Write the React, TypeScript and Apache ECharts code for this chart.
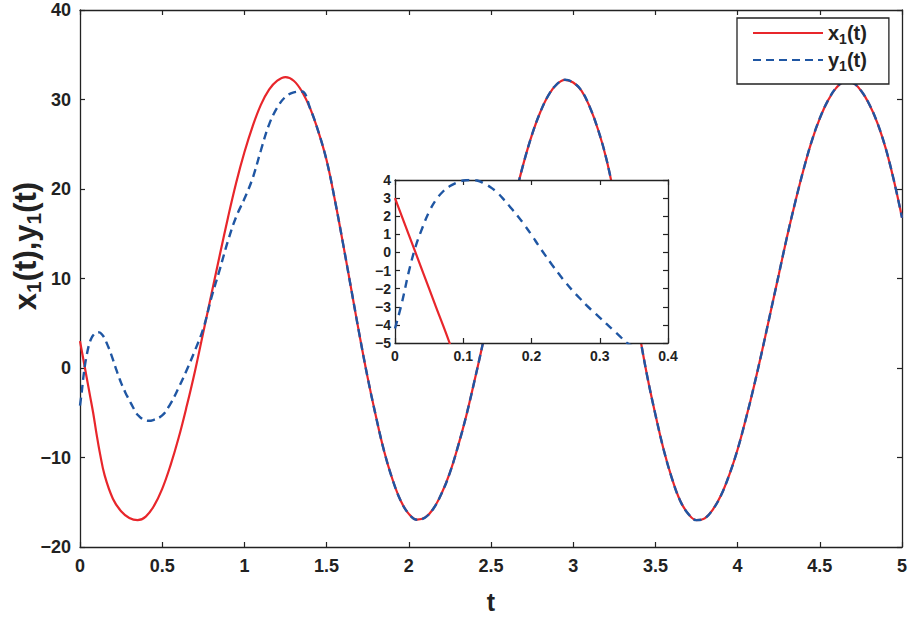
import React, { useEffect, useRef } from "react";
import * as echarts from "echarts";

// ---------- data ----------
const x1Time = [
  0, 0.02, 0.04, 0.06, 0.08, 0.1, 0.12, 0.15, 0.2, 0.25, 0.3, 0.35, 0.4,
  0.45, 0.5, 0.55, 0.6, 0.65, 0.7, 0.75, 0.8, 0.85, 0.9, 0.95, 1.0,
  1.05, 1.1, 1.15, 1.2, 1.25, 1.3, 1.35, 1.4, 1.45, 1.5, 1.55, 1.6,
  1.65, 1.7, 1.75, 1.8, 1.85, 1.9, 1.95, 2.0, 2.05, 2.1, 2.15, 2.2,
  2.25, 2.3, 2.35, 2.4, 2.45, 2.5, 2.55, 2.6, 2.65, 2.7, 2.75, 2.8,
  2.85, 2.9, 2.95, 3.0, 3.05, 3.1, 3.15, 3.2, 3.25, 3.3, 3.35, 3.4,
  3.45, 3.5, 3.55, 3.6, 3.65, 3.7, 3.75, 3.8, 3.85, 3.9, 3.95, 4.0,
  4.05, 4.1, 4.15, 4.2, 4.25, 4.3, 4.35, 4.4, 4.45, 4.5, 4.55, 4.6,
  4.65, 4.7, 4.75, 4.8, 4.85, 4.9, 4.95, 5.0,
];
const x1Values = [
  3, 1.0, -1.0, -3.0, -5.0, -7.3, -9.4, -12.0, -14.6, -16.0, -16.75, -17.0, -16.6,
  -15.4, -13.5, -10.9, -7.8, -4.2, -0.3, 4.0, 8.3, 12.6, 16.8, 20.7, 24.1,
  27.0, 29.4, 31.1, 32.1, 32.5, 32.1, 30.9, 29.0, 26.4, 23.2, 18.8, 13.9,
  8.8, 3.7, -1.1, -5.4, -9.3, -12.4, -14.8, -16.3, -16.95, -16.7, -15.7, -14.0,
  -11.7, -8.7, -5.3, -1.4, 2.7, 7.0, 11.3, 15.4, 19.4, 23.0, 26.1, 28.6,
  30.5, 31.7, 32.2, 31.9, 31.0, 29.2, 26.7, 23.5, 19.2, 14.2, 9.2, 4.1,
  -0.9, -5.2, -9.1, -12.3, -14.8, -16.3, -17.0, -16.8, -15.8, -14.2, -11.9, -9.1,
  -5.7, -2.0, 2.0, 6.2, 10.4, 14.6, 18.5, 22.1, 25.3, 27.9, 29.9, 31.3,
  31.95, 31.85, 31.0, 29.5, 27.4, 24.6, 21.0, 16.8,
];

const y1EarlyTime = [
  0, 0.01, 0.02, 0.03, 0.04, 0.05, 0.06, 0.07, 0.08, 0.09, 0.1, 0.11,
  0.12, 0.13, 0.14, 0.15, 0.16, 0.17, 0.18, 0.19, 0.2, 0.21, 0.22, 0.23,
  0.24, 0.25, 0.26, 0.27, 0.28, 0.29, 0.3, 0.31, 0.32, 0.33, 0.34, 0.36,
  0.38, 0.4, 0.42, 0.44,
];
const y1EarlyValues = [
  -4.2, -2.8, -1.1, 0.3, 1.35, 2.25, 2.9, 3.35, 3.65, 3.85, 3.97, 4.0,
  3.97, 3.82, 3.6, 3.3, 2.9, 2.45, 2.0, 1.5, 0.97, 0.4, -0.15, -0.68,
  -1.18, -1.66, -2.1, -2.5, -2.9, -3.25, -3.6, -3.95, -4.3, -4.65, -5.0, -5.4,
  -5.7, -5.85, -5.9, -5.85,
];
const y1MidTime = [
  0.5, 0.55, 0.6, 0.65, 0.7, 0.75, 0.8, 0.85, 0.9, 0.95, 1.0,
  1.05, 1.1, 1.15, 1.2, 1.25, 1.3, 1.35,
];
const y1MidValues = [
  -5.3, -4.0, -2.2, -0.2, 2.0, 4.4, 7.9, 11.0, 14.2, 16.9, 18.9,
  21.2, 24.3, 27.2, 29.1, 30.3, 30.8, 30.9,
];
// after t = 1.35 the response y1(t) lies on x1(t)
const y1JoinTime = 1.35;

const mainXTicks = { min: 0, max: 5, interval: 0.5 };
const mainYTicks = { min: -20, max: 40, interval: 10 };
const insetXTicks = { min: 0, max: 0.4, interval: 0.1 };
const insetYTicks = { min: -5, max: 4, interval: 1 };

// ---------- build series data ----------
const x1Data = x1Time.map((t, i) => [t, x1Values[i]]);
const y1Data = [
  ...y1EarlyTime.map((t, i) => [t, y1EarlyValues[i]]),
  ...y1MidTime.map((t, i) => [t, y1MidValues[i]]),
  ...x1Data.filter((p) => p[0] > y1JoinTime),
];

const FONT = '"Liberation Sans", Arial, Helvetica, sans-serif';
const INK = "#222";
const RED = "#e8262b";
const BLUE = "#1f56a3";

const fmt = (v: number) => String(parseFloat(v.toFixed(2))).replace("-", "\u2212");

function axis(
  gridIndex: number,
  position: string,
  ticks: { min: number; max: number; interval: number },
  labelSize: number,
  showLabel: boolean,
  margin: number,
  z: number,
  extra: any = {}
) {
  return {
    type: "value",
    gridIndex,
    position,
    min: ticks.min,
    max: ticks.max,
    interval: ticks.interval,
    z,
    axisLine: { show: true, onZero: false, lineStyle: { color: INK, width: 1.3 } },
    axisTick: { show: true, inside: true, length: 5, lineStyle: { color: INK, width: 1.2 } },
    axisLabel: {
      show: showLabel,
      fontSize: labelSize,
      fontWeight: "bold",
      fontFamily: FONT,
      color: INK,
      margin,
      formatter: fmt,
    },
    splitLine: { show: false },
    ...extra,
  };
}

function lineSeries(name: string, axisIndex: number, data: number[][], color: string, dash: any, z: number) {
  return {
    type: "line",
    name,
    xAxisIndex: axisIndex,
    yAxisIndex: axisIndex,
    data,
    symbol: "none",
    showSymbol: false,
    smooth: 0.4,
    clip: true,
    lineStyle: { color, width: dash ? 2.4 : 2.2, type: dash || "solid" },
    itemStyle: { color },
    z,
  };
}

export default function App() {
  const ref = useRef<HTMLDivElement>(null);

  useEffect(() => {
    if (!ref.current) return;
    const chart = echarts.init(ref.current, null, { renderer: "svg" });

    const legendRich = {
      b: { fontSize: 20, fontWeight: "bold", fontFamily: FONT, color: INK, lineHeight: 26 },
      s: { fontSize: 14, fontWeight: "bold", fontFamily: FONT, color: INK, verticalAlign: "bottom" },
    };

    chart.setOption({
      animation: false,
      backgroundColor: "#fff",
      grid: [
        { left: 80, top: 10, width: 822, height: 540, show: false },
        {
          left: 395,
          top: 180,
          width: 273,
          height: 163,
          show: true,
          backgroundColor: "#fff",
          borderWidth: 0,
          z: 5,
        },
      ],
      xAxis: [
        axis(0, "bottom", mainXTicks, 18, true, 10, 1, {
          name: "t",
          nameLocation: "middle",
          nameGap: 42,
          nameTextStyle: { fontSize: 25, fontWeight: "bold", fontFamily: FONT, color: INK },
        }),
        axis(0, "top", mainXTicks, 18, false, 10, 1),
        axis(1, "bottom", insetXTicks, 14, true, 6, 6),
        axis(1, "top", insetXTicks, 14, false, 6, 6),
      ],
      yAxis: [
        axis(0, "left", mainYTicks, 18, true, 9, 1),
        axis(0, "right", mainYTicks, 18, false, 9, 1),
        axis(1, "left", insetYTicks, 14, true, 4, 6),
        axis(1, "right", insetYTicks, 14, false, 4, 6),
      ],
      legend: {
        data: ["x1(t)", "y1(t)"],
        orient: "vertical",
        left: 737,
        top: 18,
        padding: [5, 22, 11, 15],
        itemGap: 4,
        itemWidth: 70,
        itemHeight: 14,
        backgroundColor: "#fff",
        borderColor: INK,
        borderWidth: 1.3,
        borderRadius: 0,
        selectedMode: false,
        itemStyle: { opacity: 0 },
        formatter: (name: string) =>
          name === "x1(t)" ? "{b|x}{s|1}{b|(t)}" : "{b|y}{s|1}{b|(t)}",
        textStyle: { rich: legendRich },
      },
      graphic: [
        {
          type: "text",
          x: 25,
          y: 246,
          rotation: Math.PI / 2,
          style: {
            text: "{b|x}{s|1}{b|(t),y}{s|1}{b|(t)}",
            align: "center",
            verticalAlign: "middle",
            fill: INK,
            rich: {
              b: { fontSize: 31, fontWeight: "bold", fontFamily: FONT, fill: INK, lineHeight: 38 },
              s: { fontSize: 21, fontWeight: "bold", fontFamily: FONT, fill: INK, verticalAlign: "bottom" },
            },
          },
        },
      ],
      series: [
        lineSeries("x1(t)", 0, x1Data, RED, null, 2),
        lineSeries("y1(t)", 0, y1Data, BLUE, [8, 5], 3),
        lineSeries("x1 inset", 2, x1Data, RED, null, 8),
        lineSeries("y1 inset", 2, y1Data, BLUE, [8, 6], 9),
      ],
    });

    return () => chart.dispose();
  }, []);

  return (
    <div
      ref={ref}
      style={{ position: "absolute", left: 0, top: 0, width: 911, height: 619, background: "#fff" }}
    />
  );
}
